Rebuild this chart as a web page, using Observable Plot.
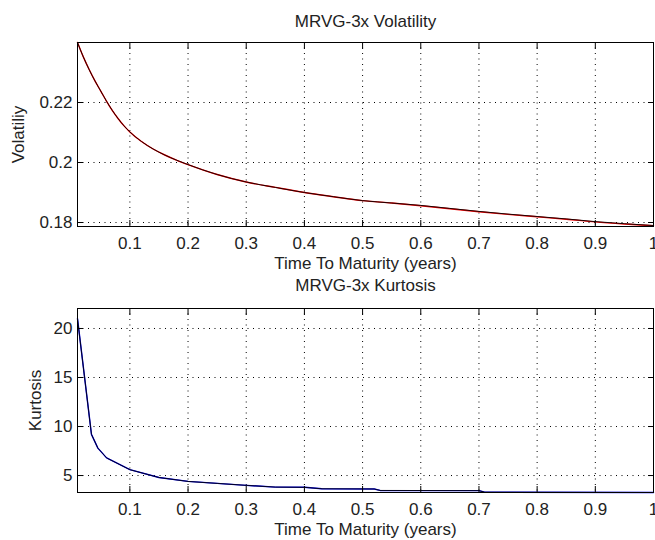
<!DOCTYPE html>
<html><head><meta charset="utf-8">
<script src="https://cdn.jsdelivr.net/npm/d3@7"></script>
<script src="https://cdn.jsdelivr.net/npm/@observablehq/plot@0.6"></script>
<style>body{margin:0;background:#fff} #chart svg{display:block}</style>
</head><body><div id="chart"></div><script>
// Volatility panel
const volX = [0.01,0.02,0.03,0.04,0.05,0.06,0.07,0.08,0.09,0.10,0.12,0.14,0.16,0.18,0.20,0.25,0.30,0.35,0.40,0.45,0.50,0.55,0.60,0.65,0.70,0.75,0.80,0.85,0.90,0.95,1.00];
const volRed = [0.2400,0.2352,0.2310,0.2272,0.2238,0.2204,0.2173,0.2146,0.2122,0.2102,0.2070,0.2045,0.2025,0.2008,0.1993,0.1960,0.1935,0.1917,0.1900,0.1886,0.1873,0.1865,0.1856,0.1846,0.1836,0.1827,0.1819,0.1811,0.1802,0.1795,0.1789];
const volBlack = [0.2400,0.2352,0.2310,0.2272,0.2238,0.2204,0.2173,0.2146,0.2122,0.2102,0.2070,0.2045,0.2025,0.2008,0.1993,0.1960,0.1935,0.1917,0.1900,0.1886,0.1873,0.1865,0.1857,0.1847,0.1837,0.1828,0.1820,0.1812,0.1803,0.1796,0.1790];
// Kurtosis panel
const kurtX = [0.01,0.034,0.045,0.06,0.10,0.15,0.20,0.25,0.30,0.35,0.40,0.43,0.52,0.53,0.70,0.71,1.00];
const kurtBlue = [21.0,9.2,7.8,6.8,5.6,4.8,4.4,4.2,4.0,3.82,3.8,3.65,3.63,3.48,3.46,3.3,3.27];
const kurtBlack = [21.0,9.2,7.8,6.8,5.6,4.8,4.4,4.2,4.0,3.82,3.8,3.65,3.63,3.48,3.46,3.3,3.27];
// Ticks and labels
const xTicks = [0.1,0.2,0.3,0.4,0.5,0.6,0.7,0.8,0.9,1];
const volTicks = [0.18,0.2,0.22];
const kurtTicks = [5,10,15,20];
const titles = ["MRVG-3x Volatility","MRVG-3x Kurtosis"];
const xLabel = "Time To Maturity (years)";
const yLabels = ["Volatiliy","Kurtosis"];

function panel({xs, ys1, ys2, c1, curve, yDomain, yTicks, height, marginTop, marginBottom, title, ylabel, ylabelDx, titleDy, xlabelDy}) {
  const d1 = xs.map((x,i)=>({x, y: ys1[i]}));
  const d2 = xs.map((x,i)=>({x, y: ys2[i]}));
  const dash = {stroke:"black", strokeDasharray:"1,4.5", strokeWidth:1};
  const txt = {fontSize: 17, lineAnchor: "middle", textAnchor: "middle", fill: "#222"};
  return Plot.plot({
    width: 655, height, marginLeft: 77, marginRight: 2, marginTop, marginBottom,
    style: {fontFamily: "'Liberation Sans', Arial, sans-serif", fontSize: "17px", color: "#222", background: "white", overflow: "visible"},
    x: {domain: [0.01, 1]},
    y: {domain: yDomain},
    marks: [
      Plot.ruleX(xTicks, dash),
      Plot.ruleY(yTicks, dash),
      Plot.line(d1, {x:"x", y:"y", stroke: c1, strokeWidth: 1.4, curve}),
      Plot.line(d2, {x:"x", y:"y", stroke: "black", strokeWidth: 0.9, curve}),
      Plot.frame({stroke:"black", strokeWidth: 1}),
      Plot.axisX(xTicks, {anchor:"bottom", tickSize:0, tickPadding:10, tickFormat: d=>String(d), label:null}),
      Plot.axisX(xTicks, {anchor:"bottom", tickSize:-6, fill:"none", stroke:"black", label:null}),
      Plot.axisX(xTicks, {anchor:"top", tickSize:-6, fill:"none", stroke:"black", label:null}),
      Plot.axisY(yTicks, {anchor:"left", tickSize:0, tickPadding:5, tickFormat: d=>String(d), label:null}),
      Plot.axisY(yTicks, {anchor:"left", tickSize:-6, fill:"none", stroke:"black", label:null}),
      Plot.axisY(yTicks, {anchor:"right", tickSize:-6, fill:"none", stroke:"black", label:null}),
      Plot.text([title], {frameAnchor:"top", dy: titleDy, ...txt}),
      Plot.text([xLabel], {frameAnchor:"bottom", dy: xlabelDy, ...txt}),
      Plot.text([ylabel], {frameAnchor:"left", dx: ylabelDx, rotate: -90, ...txt})
    ]
  });
}

const el = document.getElementById("chart");
el.append(panel({xs: volX, ys1: volRed, ys2: volBlack, c1: "#ff0000", curve: "monotone-x", yDomain: [0.17867, 0.24], yTicks: volTicks,
  height: 270, marginTop: 42, marginBottom: 44, title: titles[0], ylabel: yLabels[0], ylabelDx: -59, titleDy: -21, xlabelDy: 37}));
el.append(panel({xs: kurtX, ys1: kurtBlue, ys2: kurtBlack, c1: "#0000ff", curve: "linear", yDomain: [3.27, 22.04], yTicks: kurtTicks,
  height: 270, marginTop: 38, marginBottom: 48, title: titles[1], ylabel: yLabels[1], ylabelDx: -42, titleDy: -23, xlabelDy: 37}));
</script></body></html>
